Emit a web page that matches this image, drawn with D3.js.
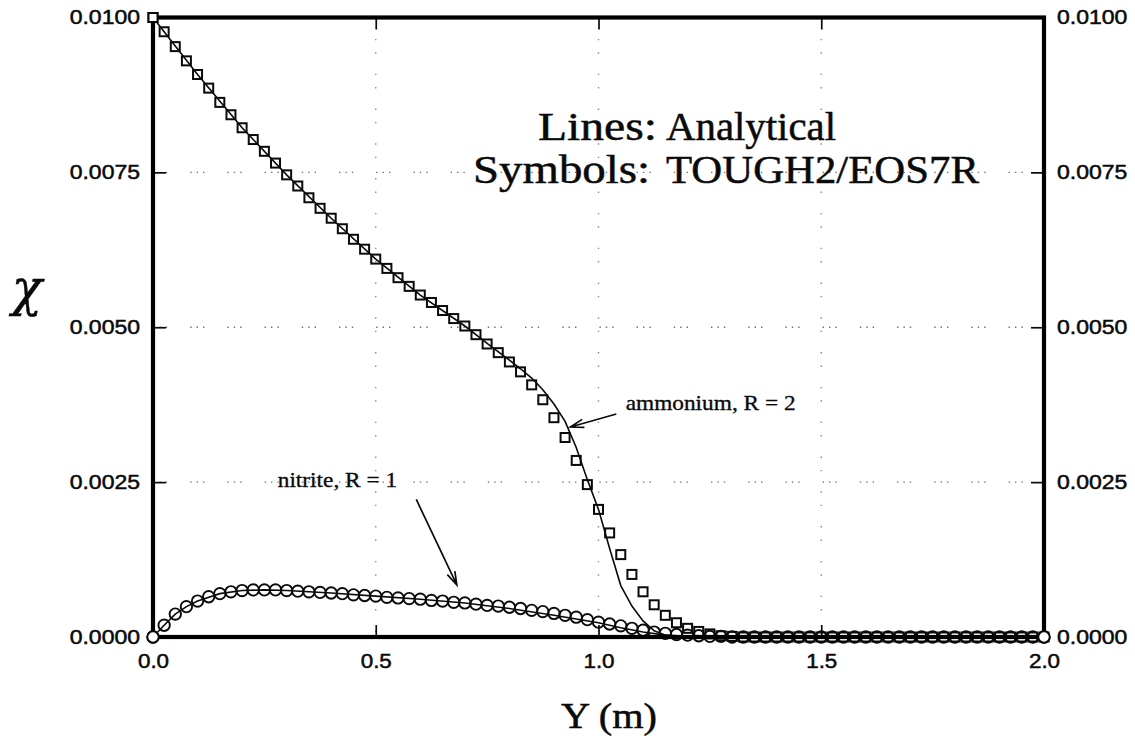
<!DOCTYPE html>
<html><head><meta charset="utf-8">
<script src="https://cdn.jsdelivr.net/npm/d3@7"></script>
<style>body{margin:0;background:#fff}</style>
</head><body><svg id="c" width="1135" height="745"></svg>
<script>
// ---------- data ----------
const symX = [0.000,0.025,0.050,0.075,0.100,0.125,0.150,0.175,0.200,0.225,
  0.250,0.275,0.300,0.325,0.350,0.375,0.400,0.425,0.450,0.475,
  0.500,0.525,0.550,0.575,0.600,0.625,0.650,0.675,0.700,0.725,
  0.750,0.775,0.800,0.825,0.850,0.875,0.900,0.925,0.950,0.975,
  1.000,1.025,1.050,1.075,1.100,1.125,1.150,1.175,1.200,1.225,
  1.250,1.275,1.300,1.325,1.350,1.375,1.400,1.425,1.450,1.475,
  1.500,1.525,1.550,1.575,1.600,1.625,1.650,1.675,1.700,1.725,
  1.750,1.775,1.800,1.825,1.850,1.875,1.900,1.925,1.950,1.975,2.000];
const ammoniumSym = [0.01000,0.00977,0.00953,0.00930,0.00908,0.00886,0.00863,0.00843,0.00822,0.00803,
  0.00784,0.00765,0.00746,0.00728,0.00709,0.00692,0.00676,0.00659,0.00642,0.00626,
  0.00610,0.00595,0.00580,0.00566,0.00552,0.00540,0.00527,0.00514,0.00502,0.00488,
  0.00473,0.00459,0.00444,0.00428,0.00407,0.00383,0.00354,0.00322,0.00285,0.00246,
  0.00206,0.00168,0.00133,0.00101,0.00073,0.00052,0.00035,0.00023,0.00014,0.00009,
  0.00005,0.00002,0.00001,0,0,0,0,0,0,0,
  0,0,0,0,0,0,0,0,0,0,
  0,0,0,0,0,0,0,0,0,0,0];
const nitriteSym = [0,0.00019,0.00037,0.00049,0.00058,0.00065,0.00070,0.00073,0.00075,0.00076,
  0.00076,0.00076,0.00075,0.00074,0.00073,0.00072,0.00071,0.00070,0.00068,0.00067,
  0.00066,0.00064,0.00063,0.00062,0.00061,0.00059,0.00058,0.00056,0.00055,0.00053,
  0.00051,0.00050,0.00048,0.00046,0.00043,0.00041,0.00038,0.00035,0.00032,0.00028,
  0.00024,0.00021,0.00018,0.00014,0.00011,0.00008,0.00006,0.00004,0.00003,0.00002,
  0.00001,0.00001,0,0,0,0,0,0,0,0,
  0,0,0,0,0,0,0,0,0,0,
  0,0,0,0,0,0,0,0,0,0,0];
const ammoniumLineX = [0,0.1,0.2,0.3,0.4,0.5,0.6,0.7,0.75,0.8,0.825,0.85,0.875,0.9,0.925,0.95,0.975,1.0,1.025,1.05,1.075,1.1,1.125,1.15,1.2,2.0];
const ammoniumLineY = [0.0100,0.00908,0.00822,0.00746,0.00676,0.00610,0.00552,0.00502,0.00474,0.00447,0.00433,0.00418,0.00399,0.00376,0.00348,0.00306,0.00254,0.00206,0.00143,0.00083,0.00050,0.00026,0.00010,0.00003,0,0];
const nitriteLineX = [0,0.025,0.05,0.075,0.1,0.15,0.2,0.25,0.3,0.4,0.5,0.6,0.7,0.8,0.9,1.0,1.05,1.1,1.15,1.2,2.0];
const nitriteLineY = [0,0.00019,0.00037,0.00049,0.00058,0.00070,0.00075,0.00076,0.00075,0.00071,0.00066,0.00061,0.00055,0.00046,0.00035,0.00023,0.00015,0.00008,0.00003,0.00001,0];
const xTicks = [0.0,0.5,1.0,1.5,2.0];
const xTickLabels = ["0.0","0.5","1.0","1.5","2.0"];
const yTicks = [0,0.0025,0.005,0.0075,0.01];
const yTickLabels = ["0.0000","0.0025","0.0050","0.0075","0.0100"];
const gridX = [0.5,1.0,1.5];
const gridY = [0.0025,0.005,0.0075];
const xTitle = "Y (m)";
const yTitle = "χ";
const legendLabels = ["Lines:","Symbols:"];
const legendValues = ["Analytical","TOUGH2/EOS7R"];
const annotations = [
  {text:"ammonium, R = 2", tx:1.061, ty:0.00367, from:[1.04,0.00360], to:[0.937,0.00339]},
  {text:"nitrite, R = 1", tx:0.280, ty:0.00242, from:[0.591,0.00222], to:[0.682,0.00084]}
];

// ---------- layout ----------
const L=153, R=1044, T=17.5, B=637;
const svg = d3.select("#c");
const x = d3.scaleLinear().domain([0,2]).range([L,R]);
const y = d3.scaleLinear().domain([0,0.01]).range([B,T]);
const SANS = "'Liberation Sans', Arial, Helvetica, sans-serif";
const SERIF = "'Liberation Serif', 'Times New Roman', Times, serif";
const INK = "#0a0a0a";

function stretch(sel, k){
  sel.each(function(){
    const w = this.getComputedTextLength();
    d3.select(this).attr("textLength", w*k).attr("lengthAdjust","spacingAndGlyphs");
  });
}
function heavy(sel, w){ sel.attr("stroke",INK).attr("stroke-width",w).attr("paint-order","stroke"); }

// grid
const grid = svg.append("g").attr("stroke","#6f6f6f").attr("stroke-width",1.4).attr("fill","none");
grid.selectAll("line.gy").data(gridY).join("line")
  .attr("x1",L).attr("x2",R).attr("y1",d=>y(d)).attr("y2",d=>y(d))
  .attr("stroke-dasharray","1.4,5,1.4,5,1.4,23");
grid.selectAll("line.gx").data(gridX).join("line")
  .attr("y1",T).attr("y2",B).attr("x1",d=>x(d)).attr("x2",d=>x(d))
  .attr("stroke","#8a8a8a").attr("stroke-dasharray","1.4,20,1.4,12");

// lines
const lineGen = d3.line().x(d=>x(d[0])).y(d=>y(d[1]));
svg.append("path").datum(ammoniumLineX.map((v,i)=>[v,ammoniumLineY[i]]))
  .attr("d",lineGen).attr("fill","none").attr("stroke",INK).attr("stroke-width",1.6);
svg.append("path").datum(nitriteLineX.map((v,i)=>[v,nitriteLineY[i]]))
  .attr("d",lineGen).attr("fill","none").attr("stroke",INK).attr("stroke-width",1.6);

// symbols
const sq = 9;
svg.append("g").selectAll("rect").data(symX.map((v,i)=>[v,ammoniumSym[i]])).join("rect")
  .attr("x",d=>x(d[0])-sq/2).attr("y",d=>y(d[1])-sq/2).attr("width",sq).attr("height",sq)
  .attr("fill","none").attr("stroke",INK).attr("stroke-width",2);
svg.append("g").selectAll("circle").data(symX.map((v,i)=>[v,nitriteSym[i]])).join("circle")
  .attr("cx",d=>x(d[0])).attr("cy",d=>y(d[1])).attr("r",5.7)
  .attr("fill","none").attr("stroke",INK).attr("stroke-width",1.9);

// axes (inward ticks)
function styleAxis(g){
  g.select(".domain").remove();
  g.selectAll(".tick line").attr("stroke",INK).attr("stroke-width",1.7);
  g.selectAll(".tick text").attr("font-family",SANS).attr("font-size",20).attr("fill",INK);
  heavy(g.selectAll(".tick text"),0.5);
}
const yl = svg.append("g").attr("transform",`translate(${L},0)`)
  .call(d3.axisLeft(y).tickValues(yTicks).tickFormat((d,i)=>yTickLabels[i]).tickSize(-13).tickPadding(13));
styleAxis(yl); stretch(yl.selectAll(".tick text"),1.15);
const yr = svg.append("g").attr("transform",`translate(${R},0)`)
  .call(d3.axisRight(y).tickValues(yTicks).tickFormat((d,i)=>yTickLabels[i]).tickSize(-13).tickPadding(13));
styleAxis(yr); stretch(yr.selectAll(".tick text"),1.15);
const xb = svg.append("g").attr("transform",`translate(0,${B})`)
  .call(d3.axisBottom(x).tickValues(xTicks).tickFormat((d,i)=>xTickLabels[i]).tickSize(-12).tickPadding(17));
styleAxis(xb); stretch(xb.selectAll(".tick text"),1.12);
const xt = svg.append("g").attr("transform",`translate(0,${T})`)
  .call(d3.axisTop(x).tickValues(xTicks).tickFormat("").tickSize(-12));
styleAxis(xt);

// frame
svg.append("rect").attr("x",L).attr("y",T).attr("width",R-L).attr("height",B-T)
  .attr("fill","none").attr("stroke","#000").attr("stroke-width",4.2);
// edge symbols on top of frame
svg.append("g").selectAll("circle").data(symX.map((v,i)=>[v,nitriteSym[i]]).filter((d,i)=>i===0||i===symX.length-1)).join("circle")
  .attr("cx",d=>x(d[0])).attr("cy",d=>y(d[1])).attr("r",5.7)
  .attr("fill","#fff").attr("stroke",INK).attr("stroke-width",1.9);
svg.append("rect").attr("x",x(symX[0])-sq/2).attr("y",y(ammoniumSym[0])-sq/2).attr("width",sq).attr("height",sq)
  .attr("fill","#fff").attr("stroke",INK).attr("stroke-width",2);

// titles
const xtT = svg.append("text").attr("x",609).attr("y",728).attr("text-anchor","middle")
  .attr("font-family",SERIF).attr("font-size",36).attr("fill",INK).text(xTitle);
stretch(xtT,1.12); heavy(xtT,0.5);
const chi = svg.append("text").attr("x",27).attr("y",305).attr("text-anchor","middle")
  .attr("font-family","'DejaVu Serif', serif").attr("font-style","italic").attr("font-size",50).attr("fill",INK).text(yTitle);
heavy(chi,0.4);

// legend text
const legX = [538,473], legW=[119,177], legY=[140,183];
const valX = 666, valW=[170,313];
legendLabels.forEach((t,i)=>{
  heavy(svg.append("text").attr("x",legX[i]).attr("y",legY[i]).attr("font-family",SERIF).attr("font-size",40)
    .attr("fill",INK).attr("textLength",legW[i]).attr("lengthAdjust","spacingAndGlyphs").text(t),0.5);
  heavy(svg.append("text").attr("x",valX).attr("y",legY[i]).attr("font-family",SERIF).attr("font-size",40)
    .attr("fill",INK).attr("textLength",valW[i]).attr("lengthAdjust","spacingAndGlyphs").text(legendValues[i]),0.5);
});

// annotations
annotations.forEach(a=>{
  const t = svg.append("text").attr("x",x(a.tx)).attr("y",y(a.ty)).attr("font-family",SERIF)
    .attr("font-size",22).attr("fill",INK).text(a.text);
  stretch(t,1.06); heavy(t,0.35);
  const x1=x(a.from[0]), y1=y(a.from[1]), x2=x(a.to[0]), y2=y(a.to[1]);
  const ang = Math.atan2(y2-y1,x2-x1), hl=14, ha=0.3;
  const p = d3.path();
  p.moveTo(x1,y1); p.lineTo(x2,y2);
  p.moveTo(x2-hl*Math.cos(ang-ha), y2-hl*Math.sin(ang-ha)); p.lineTo(x2,y2);
  p.lineTo(x2-hl*Math.cos(ang+ha), y2-hl*Math.sin(ang+ha));
  svg.append("path").attr("d",p.toString()).attr("fill","none").attr("stroke",INK).attr("stroke-width",1.7);
});
</script></body></html>
